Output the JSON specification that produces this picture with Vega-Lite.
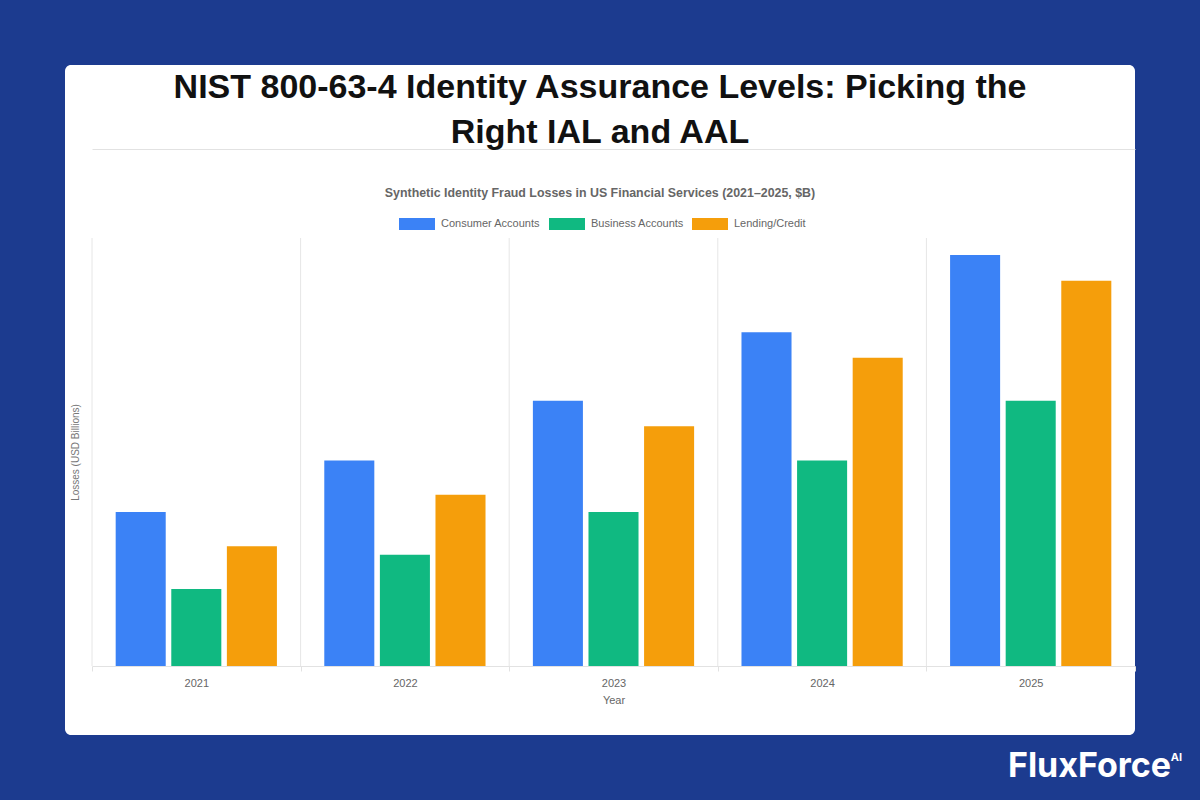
{
  "$schema": "https://vega.github.io/schema/vega-lite/v6.json",
  "width": 1070,
  "height": 670,
  "autosize": {"type": "none"},
  "padding": {"left": 65, "top": 65, "right": 65, "bottom": 65},
  "background": "#1c3b8f",
  "config": {
    "view": {"fill": "#ffffff", "stroke": null, "cornerRadius": 6},
    "font": "Liberation Sans"
  },
  "title": {
    "text": ["NIST 800-63-4 Identity Assurance Levels: Picking the", "Right IAL and AAL"],
    "subtitle": "Synthetic Identity Fraud Losses in US Financial Services (2021–2025, $B)",
    "fontSize": 34,
    "fontWeight": "bold",
    "color": "#111111",
    "lineHeight": 45,
    "anchor": "middle",
    "frame": "group",
    "subtitleFontSize": 12.4,
    "subtitleFontWeight": "bold",
    "subtitleColor": "#666666",
    "subtitlePadding": 37,
    "offset": -134
  },
  "data": {
    "values": [
      {"Year": 2021, "Segment": "Consumer Accounts", "Loss": 1.8},
      {"Year": 2021, "Segment": "Business Accounts", "Loss": 0.9},
      {"Year": 2021, "Segment": "Lending/Credit", "Loss": 1.4},
      {"Year": 2022, "Segment": "Consumer Accounts", "Loss": 2.4},
      {"Year": 2022, "Segment": "Business Accounts", "Loss": 1.3},
      {"Year": 2022, "Segment": "Lending/Credit", "Loss": 2.0},
      {"Year": 2023, "Segment": "Consumer Accounts", "Loss": 3.1},
      {"Year": 2023, "Segment": "Business Accounts", "Loss": 1.8},
      {"Year": 2023, "Segment": "Lending/Credit", "Loss": 2.8},
      {"Year": 2024, "Segment": "Consumer Accounts", "Loss": 3.9},
      {"Year": 2024, "Segment": "Business Accounts", "Loss": 2.4},
      {"Year": 2024, "Segment": "Lending/Credit", "Loss": 3.6},
      {"Year": 2025, "Segment": "Consumer Accounts", "Loss": 4.8},
      {"Year": 2025, "Segment": "Business Accounts", "Loss": 3.1},
      {"Year": 2025, "Segment": "Lending/Credit", "Loss": 4.5}
    ]
  },
  "layer": [
    {
      "data": {"values": [{"Year": 2021}, {"Year": 2022}, {"Year": 2023}, {"Year": 2024}, {"Year": 2025}]},
      "mark": {"type": "rule", "color": "#e6e6e6", "strokeWidth": 1},
      "encoding": {
        "x": {
          "field": "Year", "type": "ordinal", "bandPosition": 0,
          "axis": {
            "orient": "top", "offset": -84, "domain": true, "domainColor": "#e2e2e2", "labels": false, "ticks": false, "grid": false,
            "title": "AI", "titleX": 1111, "titleY": 608, "titleAngle": 0,
            "titleFontSize": 11, "titleFontWeight": "bold", "titleColor": "#ffffff", "titleFont": "Inter",
            "titleAlign": "center", "titleBaseline": "middle"
          }
        },
        "y": {
          "datum": 0, "type": "quantitative",
          "axis": {
            "orient": "right", "domain": false, "labels": false, "ticks": false, "grid": false,
            "title": "FluxForce", "titleAngle": 0, "titleX": -46, "titleY": 701,
            "titleFontSize": 34, "titleFontWeight": "bold", "titleColor": "#ffffff", "titleFont": "Inter",
            "titleAlign": "center", "titleBaseline": "middle"
          }
        },
        "y2": {"datum": 5}
      }
    },
    {
      "mark": {"type": "bar"},
      "encoding": {
        "x": {
          "field": "Year", "type": "ordinal",
          "scale": {"range": [27, 1070], "paddingInner": 0, "paddingOuter": 0},
          "axis": {
            "orient": "bottom", "offset": -69, "domainColor": "#e2e2e2", "ticks": true, "tickBand": "extent", "tickSize": 5, "tickColor": "#e2e2e2",
            "grid": false, "labelAngle": 0, "labelFontSize": 11, "labelColor": "#666666", "labelPadding": 6,
            "title": "Year", "titleFontSize": 11, "titleFontWeight": "normal", "titleColor": "#666666", "titlePadding": 6
          }
        },
        "xOffset": {
          "field": "Segment", "type": "nominal",
          "sort": ["Consumer Accounts", "Business Accounts", "Lending/Credit"],
          "scale": {"paddingInner": 0.1, "paddingOuter": 0.426}
        },
        "y": {
          "field": "Loss", "type": "quantitative",
          "scale": {"domain": [0, 5], "range": [601, 173], "nice": false, "zero": true},
          "axis": {
            "orient": "left", "offset": -27, "domain": false, "labels": false, "ticks": false, "grid": false,
            "title": "Losses (USD Billions)", "titleFontSize": 10, "titleFontWeight": "normal", "titleColor": "#777777", "titlePadding": 12
          }
        },
        "color": {
          "field": "Segment", "type": "nominal",
          "scale": {"domain": ["Consumer Accounts", "Business Accounts", "Lending/Credit"], "range": ["#3b82f6", "#10b981", "#f59e0b"]},
          "legend": {
            "orient": "none", "legendX": 334, "legendY": 141, "direction": "horizontal", "title": null,
            "symbolType": "M-1,-0.333H1V0.333H-1Z", "symbolSize": 1296, "symbolStrokeWidth": 0,
            "labelFontSize": 11, "labelColor": "#666666", "labelOffset": 6, "columnPadding": 8
          }
        }
      }
    }
  ],
  "resolve": {"axis": {"x": "independent", "y": "independent"}}
}
